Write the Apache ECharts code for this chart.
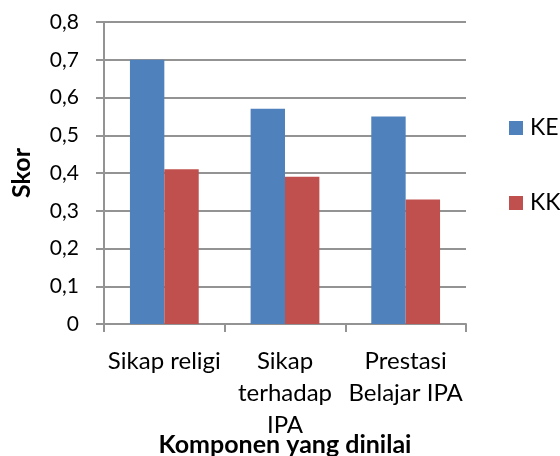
<!DOCTYPE html>
<html>
<head>
<meta charset="utf-8">
<script src="https://cdn.jsdelivr.net/npm/echarts@6/dist/echarts.min.js"></script>
<style>
html,body{margin:0;padding:0;background:#fff;}
#chart{width:560px;height:456px;}
</style>
</head>
<body>
<div id="chart"></div>
<script>
var categories = ['Sikap religi', 'Sikap\nterhadap\nIPA', 'Prestasi\nBelajar IPA'];
var seriesNames = ['KE', 'KK'];
var keValues = [0.70, 0.57, 0.55];
var kkValues = [0.41, 0.39, 0.33];
var yTickLabels = ['0', '0,1', '0,2', '0,3', '0,4', '0,5', '0,6', '0,7', '0,8'];
var xAxisTitle = 'Komponen yang dinilai';
var yAxisTitle = 'Skor';

var FONT = 'Lato';
var gray = '#939393';
var chart = echarts.init(document.getElementById('chart'), null, {renderer: 'canvas'});
chart.setOption({
  animation: false,
  backgroundColor: '#ffffff',
  textStyle: {fontFamily: FONT},
  grid: {left: 104, right: 94, top: 22, bottom: 132, containLabel: false, outerBoundsMode: 'none'},
  legend: {
    orient: 'vertical', left: 509, top: 116, padding: 0,
    itemWidth: 14, itemHeight: 14, itemGap: 51,
    icon: 'rect',
    data: seriesNames,
    textStyle: {fontFamily: FONT, fontSize: 23, color: '#000', lineHeight: 24, padding: [0, 0, 0, 2]}
  },
  xAxis: {
    type: 'category',
    data: categories,
    name: xAxisTitle,
    nameLocation: 'middle',
    nameGap: 108,
    nameMoveOverlap: false,
    nameTextStyle: {fontFamily: FONT, fontSize: 25, fontWeight: 'bold', color: '#000'},
    axisLine: {lineStyle: {color: gray, width: 2}},
    axisTick: {show: true, length: 8, lineStyle: {color: gray, width: 2}},
    axisLabel: {fontFamily: FONT, fontSize: 24, color: '#000', lineHeight: 32, margin: 21, interval: 0}
  },
  yAxis: {
    type: 'value',
    min: 0, max: 0.8, interval: 0.1,
    name: yAxisTitle,
    nameLocation: 'middle',
    nameRotate: 90,
    nameGap: 70,
    nameMoveOverlap: false,
    nameTextStyle: {fontFamily: FONT, fontSize: 25, fontWeight: 'bold', color: '#000'},
    axisLine: {show: true, lineStyle: {color: gray, width: 2}},
    axisTick: {show: true, length: 8, lineStyle: {color: gray, width: 2}},
    splitLine: {show: true, lineStyle: {color: gray, width: 2}},
    axisLabel: {
      fontFamily: FONT, fontSize: 21, color: '#000', margin: 25,
      formatter: function (v) { return yTickLabels[Math.round(v * 10)]; }
    }
  },
  series: [
    {name: seriesNames[0], type: 'bar', data: keValues, barGap: '0%', barCategoryGap: '43%',
     itemStyle: {color: '#4F81BD'}},
    {name: seriesNames[1], type: 'bar', data: kkValues, barGap: '0%', barCategoryGap: '43%',
     itemStyle: {color: '#C0504D'}}
  ]
});
</script>
</body>
</html>
